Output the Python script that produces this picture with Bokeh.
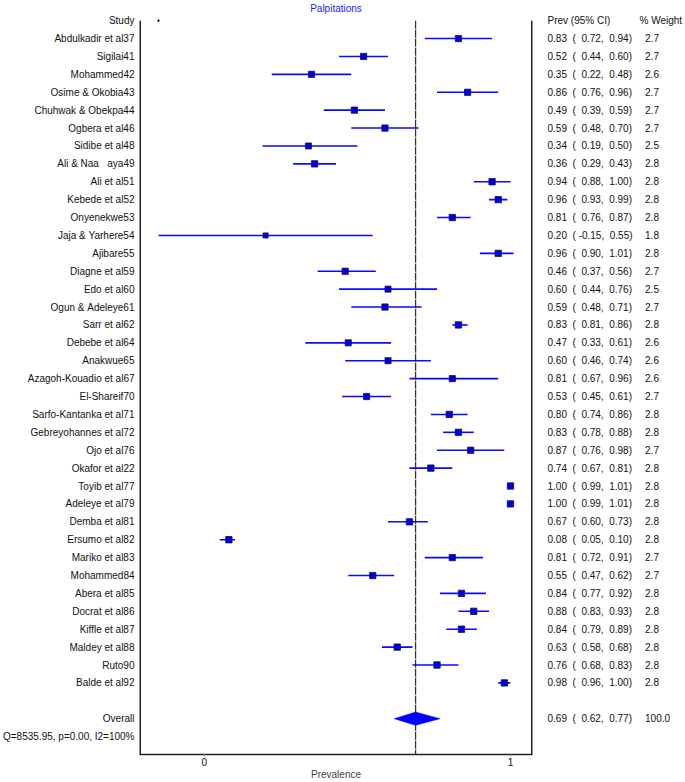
from bokeh.plotting import figure
from bokeh.models import FixedTicker, LinearAxis, Range1d
from bokeh.embed import file_html
from bokeh.resources import INLINE

studies = ["Abdulkadir et al37", "Sigilai41", "Mohammed42", "Osime & Okobia43", "Chuhwak & Obekpa44",
           "Ogbera et al46", "Sidibe et al48", "Ali & Naa   aya49", "Ali et al51", "Kebede et al52",
           "Onyenekwe53", "Jaja & Yarhere54", "Ajibare55", "Diagne et al59", "Edo et al60",
           "Ogun & Adeleye61", "Sarr et al62", "Debebe et al64", "Anakwue65", "Azagoh-Kouadio et al67",
           "El-Shareif70", "Sarfo-Kantanka et al71", "Gebreyohannes et al72", "Ojo et al76", "Okafor et al22",
           "Toyib et al77", "Adeleye et al79", "Demba et al81", "Ersumo et al82", "Mariko et al83",
           "Mohammed84", "Abera et al85", "Docrat et al86", "Kiffle et al87", "Maldey et al88",
           "Ruto90", "Balde et al92"]
prev = [0.83, 0.52, 0.35, 0.86, 0.49, 0.59, 0.34, 0.36, 0.94, 0.96,
        0.81, 0.20, 0.96, 0.46, 0.60, 0.59, 0.83, 0.47, 0.60, 0.81,
        0.53, 0.80, 0.83, 0.87, 0.74, 1.00, 1.00, 0.67, 0.08, 0.81,
        0.55, 0.84, 0.88, 0.84, 0.63, 0.76, 0.98]
lower = [0.72, 0.44, 0.22, 0.76, 0.39, 0.48, 0.19, 0.29, 0.88, 0.93,
         0.76, -0.15, 0.90, 0.37, 0.44, 0.48, 0.81, 0.33, 0.46, 0.67,
         0.45, 0.74, 0.78, 0.76, 0.67, 0.99, 0.99, 0.60, 0.05, 0.72,
         0.47, 0.77, 0.83, 0.79, 0.58, 0.68, 0.96]
upper = [0.94, 0.60, 0.48, 0.96, 0.59, 0.70, 0.50, 0.43, 1.00, 0.99,
         0.87, 0.55, 1.01, 0.56, 0.76, 0.71, 0.86, 0.61, 0.74, 0.96,
         0.61, 0.86, 0.88, 0.98, 0.81, 1.01, 1.01, 0.73, 0.10, 0.91,
         0.62, 0.92, 0.93, 0.89, 0.68, 0.83, 1.00]
weight = [2.7, 2.7, 2.6, 2.7, 2.7, 2.7, 2.5, 2.8, 2.8, 2.8,
          2.8, 1.8, 2.8, 2.7, 2.5, 2.7, 2.8, 2.6, 2.6, 2.6,
          2.7, 2.8, 2.8, 2.7, 2.8, 2.8, 2.8, 2.8, 2.8, 2.7,
          2.7, 2.8, 2.8, 2.8, 2.8, 2.8, 2.8]
overall_est, overall_lo, overall_hi, overall_w = 0.69, 0.62, 0.77, 100.0
het_text = "Q=8535.95, p=0.00, I2=100%"
x_ticks = [0, 1]

FONT = "Liberation Sans"
NB = "\u00a0"
n = len(studies)
ys = [-i for i in range(n)]
y_overall = -(n + 1)
y_het = -(n + 2)
X0, X1 = -0.212, 1.072
Y0, Y1 = -40.0, 1.40

p = figure(width=685, height=782, output_backend="svg", toolbar_location=None,
           x_range=Range1d(X0, X1), y_range=Range1d(Y0, Y1),
           x_axis_type=None, y_axis_type=None,
           min_border_left=0, min_border_right=0, min_border_top=0, min_border_bottom=0)
p.grid.visible = False
p.outline_line_color = None
p.background_fill_color = "white"
p.border_fill_color = "white"

p.title.text = "Palpitations"
p.title.align = "center"
p.title.text_color = "#1a1aff"
p.title.text_font = FONT
p.title.text_font_size = "10px"
p.title.text_font_style = "normal"
p.title.standoff = 0
p.title.offset = 0


def style_axis(ax, standoff):
    ax.axis_line_color = None
    ax.major_tick_out = 0
    ax.major_tick_in = 0
    ax.minor_tick_out = 0
    ax.minor_tick_in = 0
    ax.major_label_text_font = FONT
    ax.major_label_text_font_size = "10px"
    ax.major_label_standoff = standoff
    ax.major_label_text_color = "#111111"


# bottom axis
xax = LinearAxis(ticker=FixedTicker(ticks=x_ticks), axis_label="Prevalence")
style_axis(xax, 1)
xax.axis_line_color = "#222222"
xax.axis_line_width = 1.5
xax.major_label_overrides = {0: "0", 1: "1"}
xax.major_tick_out = 2
xax.major_tick_line_color = "#999999"
xax.axis_label_text_font = FONT
xax.axis_label_text_font_size = "10px"
xax.axis_label_text_font_style = "normal"
xax.axis_label_standoff = 0
p.add_layout(xax, "below")

# left axis with study names
left_ticks = [1] + ys + [y_overall, y_het]
left_labels = {1: "Study"}
for yy, s in zip(ys, studies):
    left_labels[yy] = s.replace(" ", NB)
left_labels[y_overall] = "Overall"
left_labels[y_het] = het_text
yax = LinearAxis(ticker=FixedTicker(ticks=left_ticks))
yax.major_label_overrides = left_labels
style_axis(yax, 5)
p.add_layout(yax, "left")

# right axis with prevalence column
right_labels = {1: "Prev (95% CI)"}
for yy, e, lo, hi in zip(ys, prev, lower, upper):
    lo_s = f"{lo:.2f}" if lo < 0 else f" {lo:.2f}"
    txt = f"{e:.2f}  ( {lo_s},  {hi:.2f})"
    right_labels[yy] = txt.replace(" ", NB)
right_labels[y_overall] = f"{overall_est:.2f}  (  {overall_lo:.2f},  {overall_hi:.2f})".replace(" ", NB)
rax = LinearAxis(ticker=FixedTicker(ticks=[1] + ys + [y_overall]))
rax.major_label_overrides = right_labels
style_axis(rax, 15)
p.add_layout(rax, "right")

# second right axis: weight column
w_labels = {1: "% Weight"}
for yy, w in zip(ys, weight):
    w_labels[yy] = NB + NB + f"{w:.1f}"
w_labels[y_overall] = NB + NB + f"{overall_w:.1f}"
wax = LinearAxis(ticker=FixedTicker(ticks=[1] + ys + [y_overall]))
wax.major_label_overrides = w_labels
style_axis(wax, 4)
p.add_layout(wax, "right")

# vertical frame lines (left and right), starting at the header row
p.segment(x0=[X0, X1], y0=[1.0, 1.0], x1=[X0, X1], y1=[Y0, Y0], line_color="#222222", line_width=3)

# overall vertical line
p.segment(x0=[overall_est], y0=[1.0], x1=[overall_est], y1=[Y0], line_color="#333333",
          line_width=1.3, line_dash="8 1")

# header dot
p.scatter([-0.15], [1], size=1.5, color="black")

# CIs and markers
p.segment(x0=lower, y0=ys, x1=upper, y1=ys, line_color="#0a0aff", line_width=1.6)
sizes = [3.8 * (w ** 0.5) for w in weight]
p.scatter(prev, ys, marker="square", size=sizes, fill_color="#0000dd", line_color="#10104a", line_width=0.8)

# overall diamond
h = 0.37
p.patch([overall_lo, overall_est, overall_hi, overall_est],
        [y_overall, y_overall + h, y_overall, y_overall - h],
        fill_color="#0000ff", line_color="#0000ff", line_width=0.5)

open("out.html", "w").write(file_html(p, INLINE))
